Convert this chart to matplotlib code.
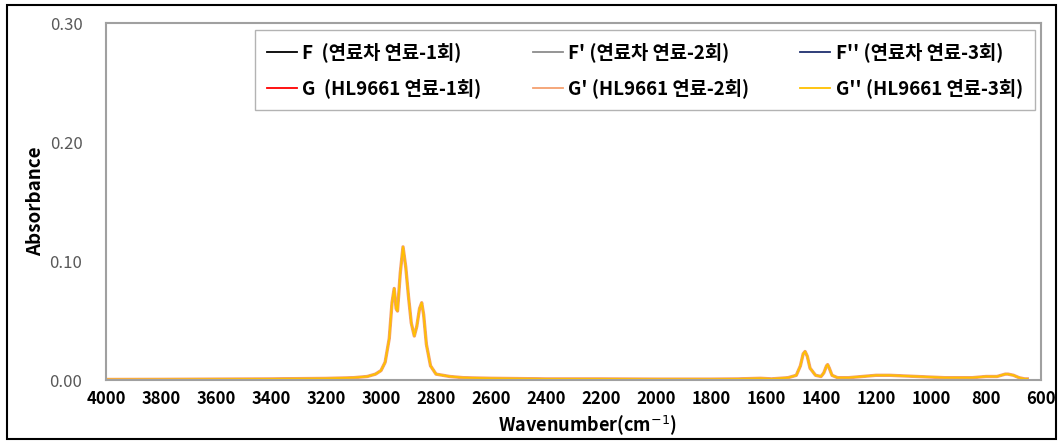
import matplotlib
matplotlib.use("Agg")
import matplotlib.pyplot as plt
from matplotlib.patches import Rectangle

plt.rcParams['font.family'] = ['Noto Sans CJK KR', 'DejaVu Sans']

# FTIR spectrum (all six runs overlap)
wavenumber = [4000, 3800, 3600, 3400, 3200, 3100, 3050, 3020, 3000, 2985,
              2970, 2960, 2952, 2945, 2940, 2930, 2920, 2910, 2900, 2890,
              2879, 2870, 2860, 2852, 2845, 2835, 2820, 2800, 2750, 2700,
              2600, 2400, 2200, 2000, 1800, 1700, 1620, 1580, 1520, 1490,
              1475, 1465, 1458, 1450, 1440, 1420, 1400, 1390, 1380, 1376,
              1370, 1360, 1340, 1300, 1250, 1200, 1150, 1100, 1050, 1000,
              950, 900, 850, 800, 760, 730, 720, 700, 680, 660, 650]
absorbance = [0.0005, 0.0006, 0.0008, 0.0010, 0.0014, 0.0020, 0.0030, 0.0050, 0.0080, 0.0150,
              0.0350, 0.0650, 0.0770, 0.0600, 0.0580, 0.0900, 0.1120, 0.0950, 0.0700, 0.0480,
              0.0370, 0.0450, 0.0600, 0.0650, 0.0550, 0.0300, 0.0120, 0.0050, 0.0030, 0.0020,
              0.0015, 0.0010, 0.0010, 0.0008, 0.0008, 0.0010, 0.0015, 0.0010, 0.0020, 0.0040,
              0.0120, 0.0220, 0.0240, 0.0200, 0.0100, 0.0040, 0.0030, 0.0060, 0.0120, 0.0130,
              0.0100, 0.0040, 0.0020, 0.0020, 0.0030, 0.0040, 0.0040, 0.0035, 0.0030, 0.0025,
              0.0020, 0.0020, 0.0020, 0.0030, 0.0030, 0.0050, 0.0050, 0.0040, 0.0020, 0.0010,
              0.0010]

labels = ["F  (연료차 연료-1회)", "F' (연료차 연료-2회)", "F'' (연료차 연료-3회)",
          "G  (HL9661 연료-1회)", "G' (HL9661 연료-2회)", "G'' (HL9661 연료-3회)"]
colors = ['#000000', '#8c8c8c', '#1f2f6e', '#ff0000', '#f4a070', '#ffc000']
widths = [1.2, 1.2, 1.2, 1.2, 2.4, 1.3]

fig = plt.figure(figsize=(10.61, 4.44), dpi=100)
ax = fig.add_axes([0.0999, 0.144, 0.8813, 0.804])

lines = []
for lab, c, w in zip(labels, colors, widths):
    ln, = ax.plot(wavenumber, absorbance, color=c, lw=w, label=lab)
    lines.append(ln)

ax.set_xlim(4000, 600)
ax.set_ylim(0, 0.30)
ax.set_xticks(range(4000, 599, -200))
ax.set_yticks([0.0, 0.10, 0.20, 0.30])
ax.set_yticklabels(['%.2f' % v for v in [0.0, 0.10, 0.20, 0.30]])
ax.tick_params(axis='both', length=0)
ax.tick_params(axis='y', pad=17, labelsize=12, labelcolor='#595959')
ax.tick_params(axis='x', pad=7, labelsize=12)
for t in ax.get_xticklabels():
    t.set_fontweight('bold')
for s in ax.spines.values():
    s.set_color('#a0a0a0')
    s.set_linewidth(1.5)

ax.set_ylabel('Absorbance', fontsize=13.5, fontweight='bold', labelpad=3)
ax.set_xlabel('Wavenumber(cm$^{-1}$)', fontsize=13, fontweight='bold', labelpad=0)
ax.xaxis.set_label_coords(0.515, -0.093)

# row-major order: legend fills columns first
order = [0, 3, 1, 4, 2, 5]
leg = ax.legend([lines[i] for i in order], [labels[i] for i in order],
                ncol=3, loc='upper left', bbox_to_anchor=(0.159, 0.762, 0.835, 0.218),
                mode='expand', fontsize=13.5, frameon=True, fancybox=False,
                handlelength=1.6, handletextpad=0.3, borderaxespad=0,
                labelspacing=0.85, borderpad=0.65)
leg.get_frame().set_edgecolor('#a0a0a0')
leg.get_frame().set_linewidth(1.0)
for t in leg.get_texts():
    t.set_fontweight('bold')
for h in leg.legend_handles:
    h.set_linewidth(1.3)

fig.patches.append(Rectangle((0.007, 0.011), 0.988, 0.977, transform=fig.transFigure,
                             fill=False, edgecolor='black', linewidth=1.5))

fig.savefig('out.png', dpi=100)
